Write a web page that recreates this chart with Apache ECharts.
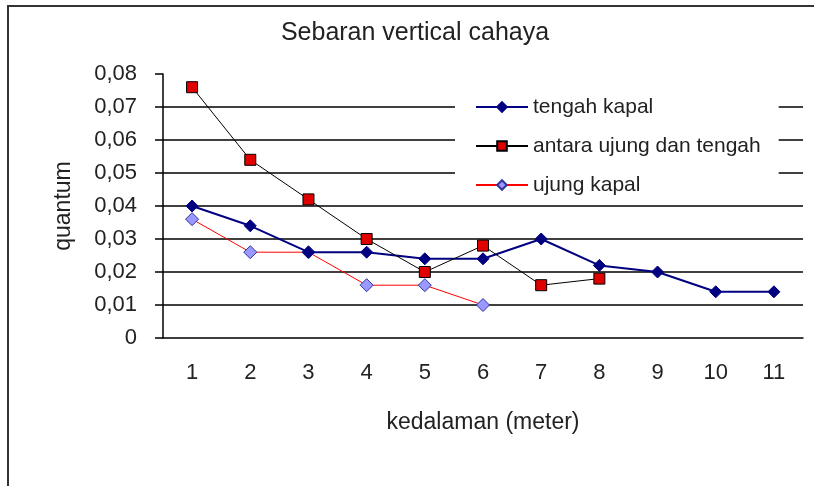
<!DOCTYPE html>
<html>
<head>
<meta charset="utf-8">
<script src="https://cdn.jsdelivr.net/npm/echarts@6/dist/echarts.min.js"></script>
<style>
  html, body { margin: 0; padding: 0; background: #fff; }
  #chart { width: 814px; height: 486px; }
</style>
</head>
<body>
<div id="chart"></div>
<script>
// kedalaman (meter)
var depths = ['1', '2', '3', '4', '5', '6', '7', '8', '9', '10', '11'];

// quantum per posisi
var tengahKapal = [0.040, 0.034, 0.026, 0.026, 0.024, 0.024, 0.030, 0.022, 0.020, 0.014, 0.014];
var antaraUjungTengah = [0.076, 0.054, 0.042, 0.030, 0.020, 0.028, 0.016, 0.018];
var ujungKapal = [0.036, 0.026, 0.026, 0.016, 0.016, 0.010];

var font = 'Liberation Sans, Arial, sans-serif';

var myChart = echarts.init(document.getElementById('chart'));
var option = {
  animation: false,
  backgroundColor: '#fff',
  title: {
    text: 'Sebaran vertical cahaya',
    left: 410,
    top: 16,
    textAlign: 'center',
    textStyle: { fontFamily: font, fontSize: 25, fontWeight: 'normal', color: '#222' }
  },
  graphic: [{
    type: 'rect',
    z: -1,
    shape: { x: 8, y: 6, width: 1000, height: 1000 },
    style: { fill: 'none', stroke: '#333', lineWidth: 2 }
  }],
  legend: {
    orient: 'vertical',
    left: 455,
    top: 90,
    backgroundColor: '#fff',
    padding: [5, 18, 5, 20],
    itemWidth: 52,
    itemHeight: 12,
    itemGap: 15,
    textStyle: { fontFamily: font, fontSize: 21, color: '#222', lineHeight: 24 },
    data: ['tengah kapal', 'antara ujung dan tengah', 'ujung kapal']
  },
  grid: { left: 163, right: 11, top: 74, bottom: 148 },
  xAxis: {
    type: 'category',
    data: depths,
    boundaryGap: true,
    name: 'kedalaman (meter)',
    nameLocation: 'middle',
    nameGap: 73,
    nameTextStyle: { fontFamily: font, fontSize: 23, color: '#222' },
    axisLine: { lineStyle: { color: '#000', width: 1.5 } },
    axisTick: { length: 8, alignWithLabel: false, lineStyle: { color: '#000', width: 1.5 } },
    axisLabel: { margin: 24, fontFamily: font, fontSize: 22, color: '#222' }
  },
  yAxis: {
    type: 'value',
    min: 0,
    max: 0.08,
    interval: 0.01,
    name: 'quantum',
    nameLocation: 'middle',
    nameGap: 88,
    nameTextStyle: { fontFamily: font, fontSize: 23, color: '#222' },
    axisLine: { show: true, lineStyle: { color: '#000', width: 1.5 } },
    axisTick: { show: true, length: 8, lineStyle: { color: '#000', width: 1.5 } },
    axisLabel: {
      margin: 26,
      fontFamily: font,
      fontSize: 22,
      color: '#222',
      formatter: function (v) {
        return v === 0 ? '0' : v.toFixed(2).replace('.', ',');
      }
    },
    splitLine: {
      show: true,
      showMinLine: false,
      showMaxLine: false,
      lineStyle: { color: '#000', width: 1.5 }
    }
  },
  series: [{
    name: 'tengah kapal',
    type: 'line',
    data: tengahKapal,
    symbol: 'diamond',
    symbolSize: 12,
    lineStyle: { color: '#000080', width: 2 },
    itemStyle: { color: '#000080', borderColor: '#000080', borderWidth: 1 },
    z: 3
  }, {
    name: 'antara ujung dan tengah',
    type: 'line',
    data: antaraUjungTengah,
    symbol: 'rect',
    symbolSize: 11,
    lineStyle: { color: '#000', width: 1 },
    itemStyle: { color: '#e00000', borderColor: '#000', borderWidth: 1 },
    z: 4
  }, {
    name: 'ujung kapal',
    type: 'line',
    data: ujungKapal,
    symbol: 'diamond',
    symbolSize: 13,
    lineStyle: { color: '#ff0000', width: 1 },
    itemStyle: { color: '#9999ff', borderColor: '#333399', borderWidth: 1 },
    z: 2
  }]
};
myChart.setOption(option);
</script>
</body>
</html>
